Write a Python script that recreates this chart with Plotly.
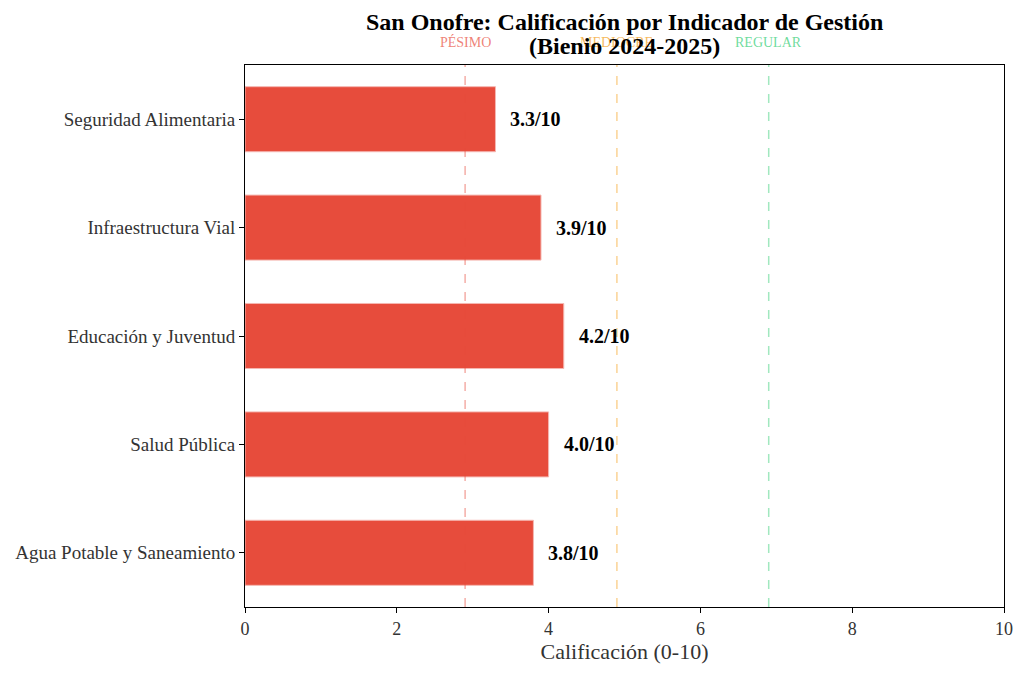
import plotly.graph_objects as go

categorias = [
    "Agua Potable y Saneamiento",
    "Salud Pública",
    "Educación y Juventud",
    "Infraestructura Vial",
    "Seguridad Alimentaria",
]
calificaciones = [3.8, 4.0, 4.2, 3.9, 3.3]
umbrales = [2.9, 4.9, 6.9]
umbral_nombres = ["PÉSIMO", "MEDIOCRE", "REGULAR"]
umbral_colores = ["rgba(231,76,60,0.45)", "rgba(243,156,18,0.45)", "rgba(46,204,113,0.45)"]

FONT = "Liberation Serif"

fig = go.Figure(
    go.Bar(
        x=calificaciones,
        y=categorias,
        orientation="h",
        width=0.6,
        marker=dict(color="#e74c3c", line=dict(color="#f5b7b1", width=1)),
    )
)

# etiquetas de valor a la derecha de cada barra
for v, c in zip(calificaciones, categorias):
    fig.add_annotation(
        x=v + 0.17, y=c, text=f"<b>{v:.1f}/10</b>", showarrow=False,
        xanchor="left", font=dict(size=20, color="black", family=FONT),
    )

# lineas de umbral
for u, n, col in zip(umbrales, umbral_nombres, umbral_colores):
    fig.add_vline(x=u, line=dict(color=col, width=1.5, dash="dash"))
    fig.add_annotation(
        x=u, y=1.0, yref="paper", yanchor="middle", yshift=23, text=n,
        showarrow=False, font=dict(size=14, color=col.replace("0.45", "0.7"), family=FONT),
    )

# titulo en dos lineas (anotaciones para controlar el interlineado)
for txt, shift in [("San Onofre: Calificación por Indicador de Gestión", 43),
                   ("(Bienio 2024-2025)", 19)]:
    fig.add_annotation(
        x=0.5, xref="paper", y=1.0, yref="paper", yanchor="middle", yshift=shift,
        text=f"<b>{txt}</b>", showarrow=False,
        font=dict(size=24, color="black", family=FONT),
    )

fig.update_layout(
    width=1016,
    height=669,
    plot_bgcolor="white",
    paper_bgcolor="white",
    showlegend=False,
    font=dict(family=FONT, size=19, color="#333"),
    margin=dict(l=237, r=20, t=57, b=70),
)
fig.update_xaxes(
    range=[0, 10], dtick=2, showgrid=False, zeroline=False,
    showline=True, linecolor="black", linewidth=1, mirror=True,
    ticks="outside", ticklen=5, tickcolor="black", tickfont=dict(size=18),
    title=dict(text="Calificación (0-10)", font=dict(size=22), standoff=6),
    automargin=False,
)
fig.update_yaxes(
    range=[-0.5, 4.5], showgrid=False, zeroline=False,
    showline=True, linecolor="black", linewidth=1, mirror=True,
    ticks="outside", ticklen=5, tickcolor="black",
    automargin=False,
)

fig.write_html("out.html")
